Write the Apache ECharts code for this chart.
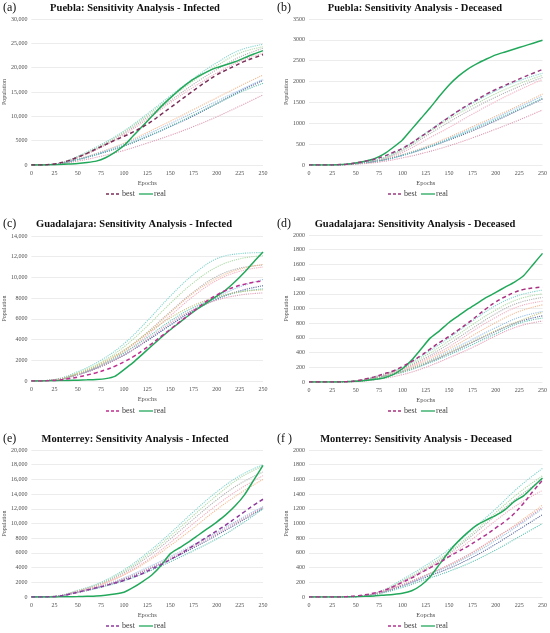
<!DOCTYPE html>
<html>
<head>
<meta charset="utf-8">
<title>Sensitivity Analysis</title>
<script src="https://cdn.jsdelivr.net/npm/echarts@6/dist/echarts.min.js"></script>
<style>
  body { margin: 0; background: #fff; }
  #main { width: 550px; height: 633px; }
</style>
</head>
<body>
<div id="main"></div>
<script type="text/javascript">
// x values: fine grid for best/real, coarse grid for the sensitivity runs
var epochs = [0,10,20,30,40,50,60,70,80,90,100,110,120,130,140,150,160,170,180,190,200,210,220,230,240,250];
var epochsCoarse = [0,25,50,75,100,125,150,175,200,225,250];

// (a) Puebla - Infected
var pueblaInfReal = [0,0,50,100,200,300,500,800,1500,2600,4000,6000,8000,10000,12000,13800,15500,17000,18200,19200,20000,20600,21200,22000,22800,23500];
var pueblaInfBest = [0,0,100,400,900,1600,2400,3300,4200,5100,5900,6800,7800,9000,10400,11800,13200,14600,16000,17300,18500,19500,20400,21300,22000,22700];
var pueblaInfSens = [
  [0,200,1800,4200,7000,10500,14200,17800,21000,23600,24800],
  [0,180,1700,4000,6800,10200,13800,17300,20400,23000,24300],
  [0,200,1600,3800,6500,9800,13200,16600,19600,22200,24000],
  [0,150,1500,3600,6200,9400,12800,16000,18900,21300,23000],
  [0,120,1200,2700,4500,6700,9000,11400,13800,16200,18500],
  [0,120,1200,2600,4300,6300,8500,10800,13100,15400,17600],
  [0,150,1100,2400,3900,5800,7900,10100,12600,15100,17400],
  [0,100,1100,2400,4000,5900,8000,10300,12600,14900,16800],
  [0,80,800,1800,3000,4500,6100,7900,9900,12100,14400]
];

// (b) Puebla - Deceased
var pueblaDecReal = [0,0,0,5,20,50,90,150,260,420,600,860,1120,1380,1660,1920,2130,2300,2430,2540,2640,2710,2780,2850,2920,2990];
var pueblaDecBest = [0,0,0,5,20,50,90,140,210,300,400,530,680,830,990,1150,1300,1440,1570,1700,1810,1910,2010,2110,2200,2290];
var pueblaDecSens = [
  [0,0,45,140,390,770,1150,1480,1780,2020,2200],
  [0,0,40,130,370,740,1100,1420,1710,1950,2150],
  [0,0,40,120,340,690,1030,1350,1630,1880,2100],
  [0,0,35,110,300,600,900,1220,1520,1800,2050],
  [0,0,30,100,250,440,670,920,1170,1430,1700],
  [0,0,30,100,240,420,640,880,1130,1390,1650],
  [0,0,30,100,230,400,600,820,1060,1320,1580],
  [0,0,30,95,230,410,620,850,1090,1340,1600],
  [0,0,20,70,170,300,460,650,860,1080,1320]
];

// (c) Guadalajara - Infected
var guadInfReal = [0,0,20,40,60,80,110,150,230,450,1100,1800,2600,3400,4200,4950,5650,6350,7000,7600,8200,8800,9600,10500,11500,12450];
var guadInfBest = [0,0,30,100,220,380,580,800,1080,1420,1850,2350,2950,3600,4300,5000,5700,6400,7100,7750,8300,8750,9100,9350,9550,9650];
var guadInfSens = [
  [0,150,900,2000,3600,5800,8200,10300,11800,12300,12400],
  [0,130,800,1800,3300,5300,7500,9500,11000,11800,12100],
  [0,120,700,1600,2900,4700,6700,8600,10100,10900,11200],
  [0,110,650,1500,2700,4400,6300,8200,9700,10600,11000],
  [0,110,700,1600,2900,4600,6600,8500,9900,10800,11250],
  [0,100,600,1400,2500,3900,5400,6900,8100,9100,9800],
  [0,100,600,1400,2500,3900,5400,6800,7900,8700,9200],
  [0,100,650,1500,2700,4200,5800,7100,8000,8600,8900],
  [0,100,600,1400,2500,4000,5600,6900,7800,8300,8500],
  [0,100,700,1700,3000,4600,6100,7300,8100,8600,8800]
];

// (d) Guadalajara - Deceased
var guadDecReal = [0,0,0,0,5,10,20,35,55,100,180,300,450,600,700,810,900,990,1070,1150,1220,1290,1360,1450,1600,1750];
var guadDecBest = [0,0,0,0,5,15,40,70,110,150,210,280,360,450,540,620,710,800,900,1000,1090,1160,1220,1260,1280,1290];
var guadDecSens = [
  [0,0,15,90,200,390,600,830,1040,1180,1250],
  [0,0,15,85,190,360,560,780,980,1130,1200],
  [0,0,12,80,180,330,520,730,930,1080,1150],
  [0,0,12,75,170,310,480,690,880,1030,1100],
  [0,0,10,70,160,290,450,630,810,960,1050],
  [0,0,10,70,150,270,420,580,740,880,960],
  [0,0,10,65,140,250,390,540,690,820,900],
  [0,0,8,60,130,240,370,510,660,800,870],
  [0,0,5,40,100,200,330,470,630,760,830],
  [0,0,10,65,140,260,400,550,700,830,950]
];

// (e) Monterrey - Infected
var monInfReal = [0,0,0,20,40,60,100,150,250,400,650,1300,2100,3000,4300,5900,6700,7500,8400,9300,10200,11200,12400,13900,15900,17900];
var monInfBest = [0,0,20,120,350,650,950,1250,1550,1900,2250,2700,3200,3800,4400,5100,5800,6600,7400,8200,9000,9800,10700,11600,12500,13300];
var monInfSens = [
  [0,100,900,2000,3700,6000,8700,11600,14300,16500,18000],
  [0,100,850,1900,3500,5700,8300,11100,13800,16200,17800],
  [0,90,800,1800,3300,5400,7900,10600,13200,15400,17000],
  [0,90,800,1700,3100,5000,7400,10000,12500,14700,16500],
  [0,80,750,1650,3000,4800,7000,9400,11900,14100,16000],
  [0,80,700,1500,2600,4000,5500,7100,8800,10600,12300],
  [0,70,650,1400,2400,3700,5100,6700,8400,10200,12100],
  [0,70,600,1300,2200,3400,4800,6300,7900,9800,12000],
  [0,70,650,1450,2500,3800,5300,6900,8600,10400,12200]
];

// (f) Monterrey - Deceased
var monDecReal = [0,0,0,0,2,5,10,15,25,35,50,85,160,280,450,620,760,880,980,1050,1110,1190,1300,1380,1500,1620];
var monDecBest = [0,0,0,0,5,15,30,55,90,140,200,260,330,400,470,550,620,690,770,850,940,1030,1140,1280,1440,1590];
var monDecSens = [
  [0,0,5,70,240,430,650,920,1200,1500,1750],
  [0,0,5,65,220,400,610,870,1150,1420,1650],
  [0,0,5,60,210,380,590,840,1110,1370,1600],
  [0,0,5,60,200,370,560,790,1040,1270,1450],
  [0,0,5,55,170,300,430,600,800,1020,1250],
  [0,0,5,55,160,290,420,580,770,980,1200],
  [0,0,5,50,150,270,390,540,720,920,1120],
  [0,0,5,45,130,240,350,480,640,820,1000],
  [0,0,5,55,165,295,440,610,810,1000,1220]
];

var chartDom = document.getElementById('main');
var myChart = echarts.init(chartDom);

var FONT = '"Liberation Serif", "Times New Roman", serif';
var sensColors = ['#7fd3cc','#a9d9a2','#b0b0b0','#f2aabd','#f5b890','#93bde6','#56669f','#62c2b3','#df98b2','#c2c27e'];
var GREEN = '#22a85a';

var panels = [
  { letter: '(a)', title: 'Puebla: Sensitivity Analysis - Infected', xName: 'Epochs',
    grid: { left: 31, top: 19, width: 232, height: 146 }, max: 30000, interval: 5000,
    real: pueblaInfReal, best: pueblaInfBest, sens: pueblaInfSens, bestColor: '#7a2e58',
    titleX: 135, titleY: 8, legendX: 106, legendY: 194 },
  { letter: '(b)', title: 'Puebla: Sensitivity Analysis - Deceased', xName: 'Epochs',
    grid: { left: 309, top: 19, width: 235, height: 146 }, max: 3500, interval: 500,
    real: pueblaDecReal, best: pueblaDecBest, sens: pueblaDecSens, bestColor: '#9a3a80',
    titleX: 415, titleY: 8, legendX: 388, legendY: 194 },
  { letter: '(c)', title: 'Guadalajara: Sensitivity Analysis - Infected', xName: 'Epochs',
    grid: { left: 31, top: 236, width: 232, height: 145 }, max: 14000, interval: 2000,
    real: guadInfReal, best: guadInfBest, sens: guadInfSens, bestColor: '#c02e8f',
    titleX: 134, titleY: 224, legendX: 106, legendY: 411 },
  { letter: '(d)', title: 'Guadalajara: Sensitivity Analysis - Deceased', xName: 'Epochs',
    grid: { left: 309, top: 235, width: 235, height: 147 }, max: 2000, interval: 200,
    real: guadDecReal, best: guadDecBest, sens: guadDecSens, bestColor: '#a8307f',
    titleX: 415, titleY: 224, legendX: 388, legendY: 411 },
  { letter: '(e)', title: 'Monterrey: Sensitivity Analysis - Infected', xName: 'Epochs',
    grid: { left: 31, top: 450, width: 232, height: 147 }, max: 20000, interval: 2000,
    real: monInfReal, best: monInfBest, sens: monInfSens, bestColor: '#8d3a9c',
    titleX: 135, titleY: 439, legendX: 106, legendY: 626 },
  { letter: '(f )', title: 'Monterrey: Sensitivity Analysis - Deceased', xName: 'Eopchs',
    grid: { left: 309, top: 450, width: 235, height: 147 }, max: 2000, interval: 200,
    real: monDecReal, best: monDecBest, sens: monDecSens, bestColor: '#b0348f',
    titleX: 416, titleY: 439, legendX: 388, legendY: 626 }
];

function zip(xs, ys) {
  return xs.map(function (x, i) { return [x, ys[i]]; });
}

function yFmt(v) {
  if (v >= 10000) return v.toLocaleString('en-US');
  return String(v);
}

var grids = [], xAxes = [], yAxes = [], series = [], graphics = [];

panels.forEach(function (p, i) {
  grids.push(p.grid);
  xAxes.push({
    gridIndex: i, type: 'value', min: 0, max: 250, interval: 25,
    name: p.xName, nameLocation: 'middle', nameGap: 15,
    nameTextStyle: { fontFamily: FONT, fontSize: 6.5, color: '#505050' },
    axisLine: { show: false }, axisTick: { show: false }, splitLine: { show: false },
    axisLabel: { fontFamily: FONT, fontSize: 6, color: '#505050', margin: 5 }
  });
  yAxes.push({
    gridIndex: i, type: 'value', min: 0, max: p.max, interval: p.interval,
    name: 'Population', nameLocation: 'middle', nameRotate: 90, nameGap: i % 2 === 0 ? 24 : 20,
    nameTextStyle: { fontFamily: FONT, fontSize: 6, color: '#505050' },
    axisLine: { show: false }, axisTick: { show: false },
    splitLine: { lineStyle: { color: '#e4e4e4', width: 0.7 } },
    axisLabel: { fontFamily: FONT, fontSize: 6, color: '#505050', margin: 4, formatter: yFmt }
  });

  p.sens.forEach(function (s, k) {
    series.push({
      name: 'sens' + i + '_' + k, type: 'line', xAxisIndex: i, yAxisIndex: i,
      data: zip(epochsCoarse, s), smooth: 0.4, symbol: 'none', silent: true,
      lineStyle: { color: sensColors[k % sensColors.length], width: 1.1, type: 'dotted' }
    });
  });
  series.push({
    name: 'best', type: 'line', xAxisIndex: i, yAxisIndex: i,
    data: zip(epochs, p.best), smooth: true, symbol: 'none', z: 5, silent: true,
    lineStyle: { color: p.bestColor, width: 1.5, type: [4, 3] }
  });
  series.push({
    name: 'real', type: 'line', xAxisIndex: i, yAxisIndex: i,
    data: zip(epochs, p.real), smooth: 0.2, symbol: 'none', z: 4, silent: true,
    lineStyle: { color: GREEN, width: 1.5 }
  });

  // legend keys: dashed "best", solid "real"
  var lx = p.legendX, ly = p.legendY;
  graphics.push(
    { type: 'line', shape: { x1: lx, y1: ly, x2: lx + 14, y2: ly },
      style: { stroke: p.bestColor, lineWidth: 1.3, lineDash: [3, 2] } },
    { type: 'text', x: lx + 16, y: ly,
      style: { text: 'best', font: '8px ' + FONT, fill: '#404040', align: 'left', verticalAlign: 'middle' } },
    { type: 'line', shape: { x1: lx + 33, y1: ly, x2: lx + 47, y2: ly },
      style: { stroke: GREEN, lineWidth: 1.3 } },
    { type: 'text', x: lx + 48, y: ly,
      style: { text: 'real', font: '8px ' + FONT, fill: '#404040', align: 'left', verticalAlign: 'middle' } }
  );

  graphics.push({
    type: 'text', x: p.titleX, y: p.titleY,
    style: { text: p.title, font: 'bold 10.5px ' + FONT, fill: '#111', align: 'center', verticalAlign: 'middle' }
  });
  graphics.push({
    type: 'text', x: (i % 2 === 0 ? 3 : 277), y: p.titleY,
    style: { text: p.letter, font: '12px ' + FONT, fill: '#111', align: 'left', verticalAlign: 'middle' }
  });
});

var option = {
  backgroundColor: '#ffffff',
  animation: false,
  grid: grids,
  xAxis: xAxes,
  yAxis: yAxes,
  graphic: graphics,
  series: series
};

if (option && typeof option === 'object') {
  myChart.setOption(option);
}
</script>
</body>
</html>
